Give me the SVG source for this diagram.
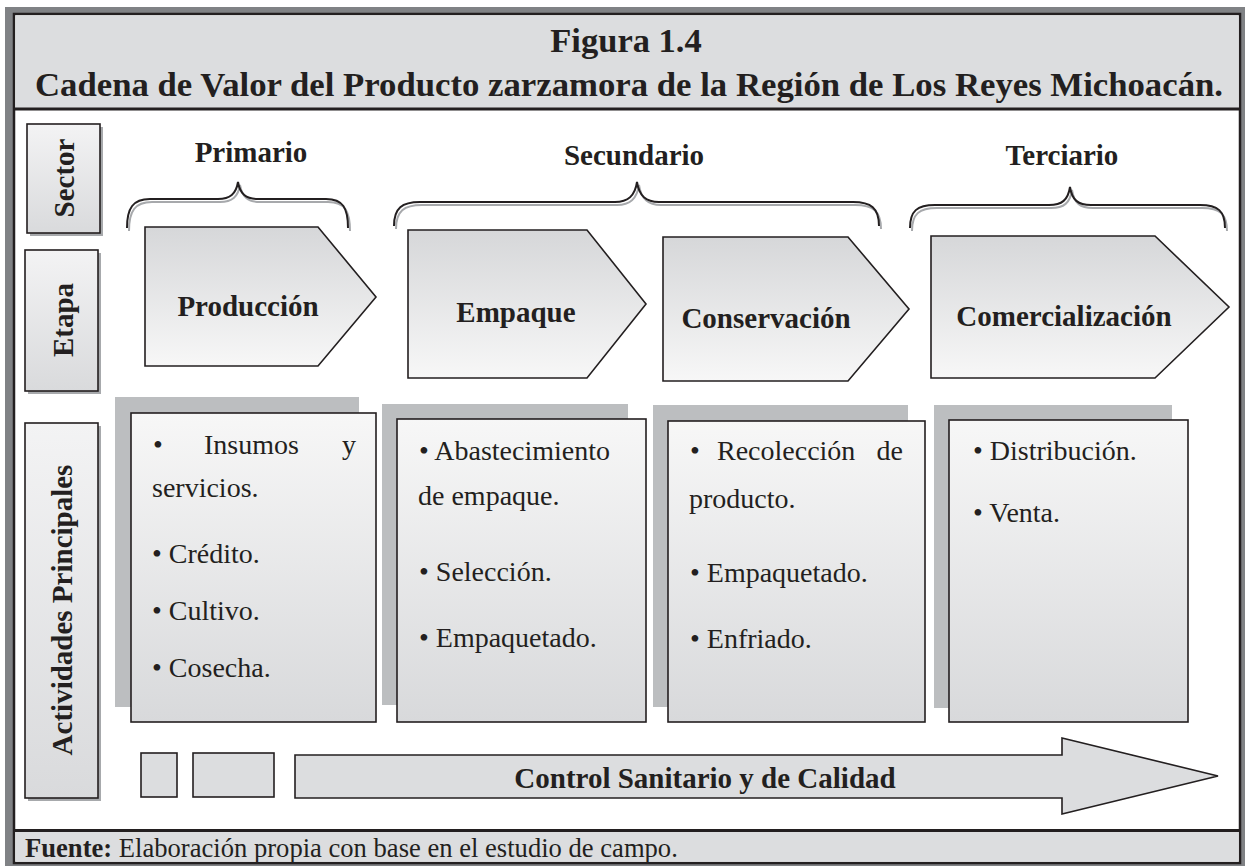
<svg xmlns="http://www.w3.org/2000/svg" width="1245" height="866" viewBox="0 0 1245 866">
<defs>
<linearGradient id="gBox" x1="0" y1="0" x2="0" y2="1"><stop offset="0" stop-color="#f7f7f7"/><stop offset="1" stop-color="#d8d9db"/></linearGradient>
<linearGradient id="gStage" x1="0" y1="0" x2="0" y2="1"><stop offset="0" stop-color="#d6d7d9"/><stop offset="1" stop-color="#f7f7f7"/></linearGradient>
<linearGradient id="gLab" x1="0" y1="0" x2="0" y2="1"><stop offset="0" stop-color="#f3f3f4"/><stop offset="1" stop-color="#d9dadc"/></linearGradient>
<style>
.t{font-family:"Liberation Serif","Times New Roman",serif;fill:#231f20}
.ttl{font-size:34.5px;font-weight:bold}
.hd{font-size:29px;font-weight:bold}
.act{font-size:28px}
.ft{font-size:26.6px}
.stk{stroke:#231f20;stroke-width:1.6}
.br{fill:none;stroke:#231f20;stroke-width:2}
.brs{fill:none;stroke:#a7a9ac;stroke-width:2}
.shd{fill:#bcbec0}
.lsh{fill:#a7a9ac}
.gr{fill:#dcdddf}
</style>
</defs>
<rect width="1245" height="866" fill="#ffffff"/>
<g id="frame">
<rect x="5" y="7" width="1240" height="859" fill="#808285"/>
<rect x="14" y="14" width="1226" height="849" fill="#ffffff" stroke="#231f20" stroke-width="2.5"/>
<rect x="15.3" y="15.3" width="1223.4" height="93" class="gr"/>
<line x1="14" y1="109" x2="1240" y2="109" stroke="#231f20" stroke-width="3"/>
<rect x="15.3" y="831" width="1223.4" height="30.7" class="gr"/>
<line x1="14" y1="830.5" x2="1240" y2="830.5" stroke="#231f20" stroke-width="3"/>
</g>
<g id="title">
<text x="626" y="52" text-anchor="middle" class="t ttl">Figura 1.4</text>
<text x="35" y="96" class="t ttl" textLength="1188" lengthAdjust="spacingAndGlyphs">Cadena de Valor del Producto zarzamora de la Región de Los Reyes Michoacán.</text>
</g>
<g id="label-sector">
<rect x="30" y="127" width="73" height="109" class="lsh"/>
<rect x="27" y="124" width="73" height="109" fill="url(#gLab)" class="stk"/>
<text transform="translate(74,178) rotate(-90)" text-anchor="middle" class="t hd">Sector</text>
</g>
<g id="label-etapa">
<rect x="28" y="253" width="73" height="141" class="lsh"/>
<rect x="25" y="250" width="73" height="141" fill="url(#gLab)" class="stk"/>
<text transform="translate(73,320) rotate(-90)" text-anchor="middle" class="t hd">Etapa</text>
</g>
<g id="label-actividades">
<rect x="28" y="426" width="73" height="375" class="lsh"/>
<rect x="25" y="423" width="73" height="375" fill="url(#gLab)" class="stk"/>
<text transform="translate(72,610) rotate(-90)" text-anchor="middle" class="t hd">Actividades Principales</text>
</g>
<g id="sector-primario">
<path class="brs" transform="translate(2,3)" d="M127,228 C127,208 133,199 150,199 L218,199 C230,199 236,194 238,182 C240,194 246,199 258,199 L326,199 C343,199 348,208 348,228"/>
<path class="br" d="M127,228 C127,208 133,199 150,199 L218,199 C230,199 236,194 238,182 C240,194 246,199 258,199 L326,199 C343,199 348,208 348,228"/>
<text x="251" y="162" text-anchor="middle" class="t hd">Primario</text>
</g>
<g id="sector-secundario">
<path class="brs" transform="translate(2,3)" d="M394,226 C394,208 402,202 420,202 L615,202 C628,202 635,196 637,182 C639,196 646,202 659,202 L853,202 C871,202 879,208 879,226"/>
<path class="br" d="M394,226 C394,208 402,202 420,202 L615,202 C628,202 635,196 637,182 C639,196 646,202 659,202 L853,202 C871,202 879,208 879,226"/>
<text x="634" y="165" text-anchor="middle" class="t hd">Secundario</text>
</g>
<g id="sector-terciario">
<path class="brs" transform="translate(2,3)" d="M910,228 C910,211 917,205 935,205 L1049,205 C1062,205 1068,200 1070,187 C1072,200 1078,205 1091,205 L1200,205 C1218,205 1225,211 1225,228"/>
<path class="br" d="M910,228 C910,211 917,205 935,205 L1049,205 C1062,205 1068,200 1070,187 C1072,200 1078,205 1091,205 L1200,205 C1218,205 1225,211 1225,228"/>
<text x="1062" y="165" text-anchor="middle" class="t hd">Terciario</text>
</g>
<g id="stage-produccion">
<path d="M145,227 L318,227 L376,297 L318,366 L145,366 Z" fill="url(#gStage)" class="stk"/>
<text x="248" y="316" text-anchor="middle" class="t hd">Producción</text>
</g>
<g id="stage-empaque">
<path d="M408,230 L587,230 L646,304 L587,378 L408,378 Z" fill="url(#gStage)" class="stk"/>
<text x="516" y="322" text-anchor="middle" class="t hd">Empaque</text>
</g>
<g id="stage-conservacion">
<path d="M663,237 L848,237 L909,309 L848,381 L663,381 Z" fill="url(#gStage)" class="stk"/>
<text x="766" y="328" text-anchor="middle" class="t hd">Conservación</text>
</g>
<g id="stage-comercializacion">
<path d="M931,236 L1155,236 L1229,307 L1155,378 L931,378 Z" fill="url(#gStage)" class="stk"/>
<text x="1064" y="326" text-anchor="middle" class="t hd">Comercialización</text>
</g>
<g id="act-produccion">
<rect x="115" y="397" width="244" height="310" class="shd"/>
<rect x="131" y="413" width="245" height="309" fill="url(#gBox)" class="stk"/>
<text class="t act"><tspan x="153" y="454">•</tspan><tspan x="204" y="454">Insumos</tspan></text>
<text x="356" y="454" text-anchor="end" class="t act">y</text>
<text x="152" y="497" class="t act">servicios.</text>
<text x="152" y="563" class="t act">• Crédito.</text>
<text x="152" y="620" class="t act">• Cultivo.</text>
<text x="152" y="677" class="t act">• Cosecha.</text>
</g>
<g id="act-empaque">
<rect x="382" y="404" width="246" height="301" class="shd"/>
<rect x="397" y="419" width="249" height="303" fill="url(#gBox)" class="stk"/>
<text x="419" y="460" class="t act">• Abastecimiento</text>
<text x="418" y="505" class="t act">de empaque.</text>
<text x="419" y="581" class="t act">• Selección.</text>
<text x="419" y="647" class="t act">•  Empaquetado.</text>
</g>
<g id="act-conservacion">
<rect x="653" y="405" width="255" height="302" class="shd"/>
<rect x="668" y="421" width="257" height="301" fill="url(#gBox)" class="stk"/>
<text class="t act"><tspan x="690" y="460">•</tspan><tspan x="717" y="460">Recolección</tspan></text>
<text x="903" y="460" text-anchor="end" class="t act">de</text>
<text x="689" y="508" class="t act">producto.</text>
<text x="690" y="582" class="t act">• Empaquetado.</text>
<text x="690" y="648" class="t act">• Enfriado.</text>
</g>
<g id="act-comercializacion">
<rect x="934" y="405" width="238" height="303" class="shd"/>
<rect x="949" y="420" width="239" height="302" fill="url(#gBox)" class="stk"/>
<text x="973" y="460" class="t act">• Distribución.</text>
<text x="973" y="522" class="t act">• Venta.</text>
</g>
<g id="control">
<rect x="141" y="753" width="36" height="44" class="gr stk"/>
<rect x="193" y="753" width="81" height="44" class="gr stk"/>
<path d="M295,755 L1062,755 L1062,738 L1218,776 L1062,814 L1062,798 L295,798 Z" class="gr stk"/>
<text x="705" y="788" text-anchor="middle" class="t hd">Control Sanitario y de Calidad</text>
</g>
<g id="footer">
<text x="25" y="857" class="t ft"><tspan font-weight="bold">Fuente:</tspan> Elaboración propia con base en el estudio de campo.</text>
</g>
</svg>
